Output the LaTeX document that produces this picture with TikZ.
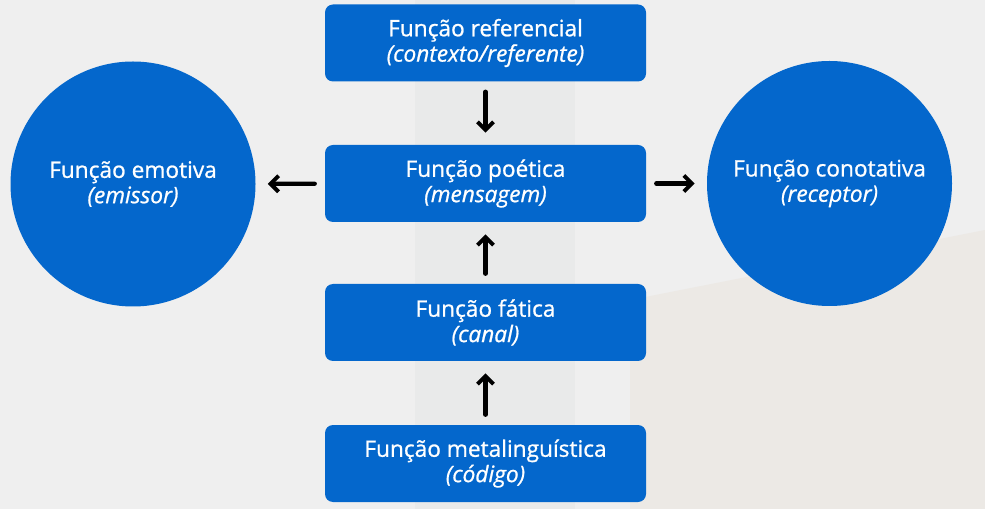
\documentclass[tikz,border=0pt]{standalone}
\usepackage{fontspec}
\setmainfont{Open Sans}[FakeBold=0.9]
\usepackage{tikz}
\usetikzlibrary{arrows.meta,positioning}
\definecolor{funcblue}{RGB}{4,103,204}
\definecolor{bggray}{RGB}{239,239,239}
\definecolor{bgband}{RGB}{233,234,234}
\definecolor{bgwarm}{RGB}{236,233,229}

\begin{document}
\begin{tikzpicture}[x=0.75pt,y=-0.75pt,line cap=round,line join=round,
font=\fontsize{17}{19}\selectfont,
funcbox/.style={rectangle,rounded corners=6pt,fill=funcblue,text=white,minimum width=240.75pt,minimum height=57.75pt,align=center,inner sep=0pt},
funcball/.style={circle,fill=funcblue,text=white,minimum size=183.75pt,align=center,inner sep=0pt},
link/.style={-{Straight Barb[length=6pt,width=12pt,line width=3pt]},line width=3.2pt,shorten <=7.5pt,shorten >=9pt}]
\useasboundingbox (0,0) rectangle (985,509);
\fill[bggray] (0,0) rectangle (985,509);
% faint background marks
\fill[bgwarm] (630,300) -- (985,230) -- (985,509) -- (630,509) -- cycle;
\fill[bgband] (415,0) rectangle (575,509);
\node[funcbox] (ref) at (485.5,43) {Função referencial\\\textit{(contexto/referente)}};
\node[funcbox] (poet) at (485.5,183.5) {Função poética\\\textit{(mensagem)}};
\node[funcbox] (fat) at (485.5,322.5) {Função fática\\\textit{(canal)}};
\node[funcbox] (meta) at (485.5,463.5) {Função metalinguística\\\textit{(código)}};
\node[funcball] (emot) at (133,184) {Função emotiva\\\textit{(emissor)}};
\node[funcball] (conot) at (829.5,183.5) {Função conotativa\\\textit{(receptor)}};
\draw[link] (ref) -- (poet);
\draw[link] (poet) -- (emot);
\draw[link] (poet) -- (conot);
\draw[link] (fat) -- (poet);
\draw[link] (meta) -- (fat);
\end{tikzpicture}
\end{document}
